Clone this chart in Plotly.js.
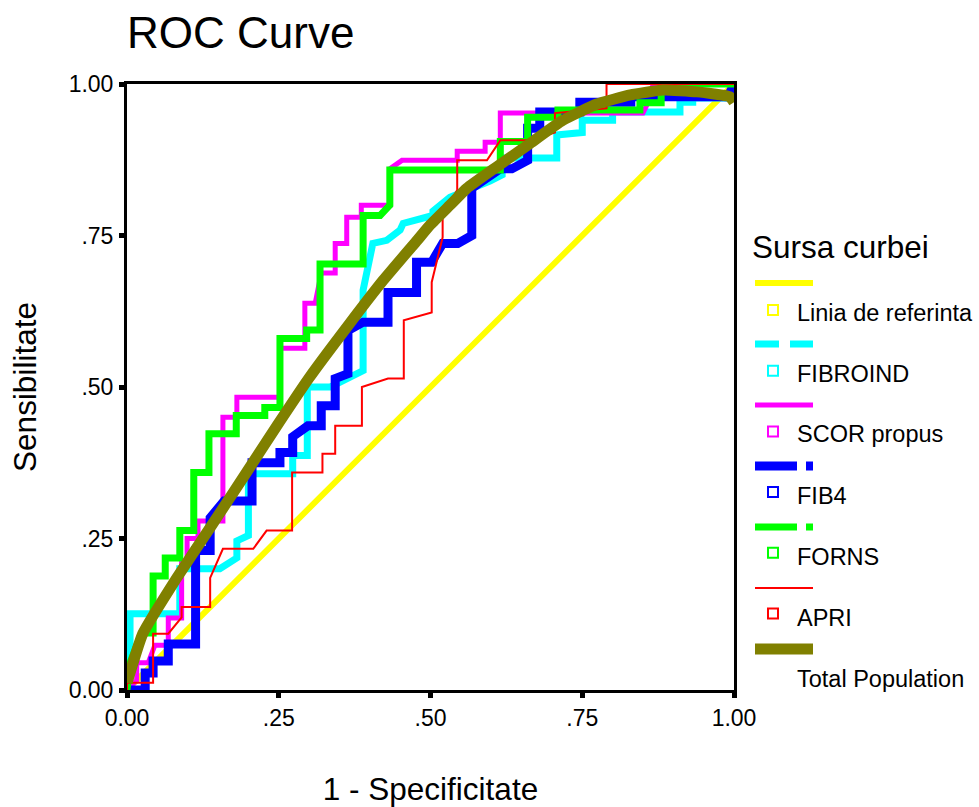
<!DOCTYPE html>
<html><head><meta charset="utf-8">
<script src="https://cdn.plot.ly/plotly-3.0.1.min.js"></script>
<style>html,body{margin:0;padding:0;background:#fff}#chart{width:979px;height:807px}</style>
</head><body><div id="chart"></div>
<script>
// ---------- data ----------
const tickVals = [0, 0.25, 0.5, 0.75, 1];
const tickText = ['0.00', '.25', '.50', '.75', '1.00'];

const seriesNames = ['Linia de referinta', 'FIBROIND', 'SCOR propus', 'FIB4', 'FORNS', 'APRI', 'Total Population'];

const refX = [0, 1];
const refY = [0, 1];

const fibroindX = [0,0.005,0.005,0.087,0.087,0.153,0.181,0.181,0.200,0.200,0.273,0.273,0.297,0.297,0.335,0.389,0.389,0.405,0.428,0.450,0.455,0.504,0.504,0.532,0.598,0.618,0.618,0.708,0.708,0.750,0.750,0.800,0.800,0.911,0.911,0.932,0.932,0.990,1];
const fibroindY = [0,0,0.126,0.126,0.200,0.200,0.218,0.246,0.255,0.357,0.357,0.387,0.387,0.500,0.500,0.527,0.660,0.737,0.742,0.759,0.770,0.783,0.790,0.813,0.840,0.850,0.878,0.878,0.916,0.920,0.940,0.940,0.954,0.954,0.970,0.970,0.977,0.977,1];

const scorX = [0,0.016,0.016,0.035,0.046,0.068,0.068,0.090,0.090,0.099,0.099,0.117,0.117,0.158,0.158,0.181,0.181,0.252,0.252,0.293,0.293,0.310,0.320,0.343,0.343,0.362,0.362,0.386,0.386,0.433,0.433,0.453,0.544,0.544,0.590,0.590,0.615,0.615,0.850,0.866,0.866,1];
const scorY = [0,0.016,0.045,0.045,0.074,0.074,0.119,0.119,0.213,0.213,0.250,0.250,0.279,0.279,0.450,0.450,0.483,0.483,0.564,0.564,0.638,0.638,0.688,0.688,0.737,0.737,0.780,0.780,0.800,0.800,0.860,0.874,0.874,0.889,0.889,0.904,0.904,0.952,0.952,0.985,1,1];

const fib4X = [0,0.030,0.030,0.043,0.043,0.068,0.068,0.113,0.113,0.137,0.137,0.160,0.206,0.206,0.252,0.252,0.273,0.273,0.298,0.320,0.320,0.343,0.343,0.364,0.364,0.389,0.430,0.430,0.477,0.477,0.502,0.520,0.545,0.568,0.568,0.598,0.615,0.634,0.660,0.660,0.680,0.680,0.746,0.746,0.830,0.830,0.990,1];
const fib4Y = [0,0,0.028,0.028,0.048,0.048,0.076,0.076,0.230,0.230,0.284,0.312,0.312,0.375,0.375,0.392,0.392,0.418,0.436,0.436,0.469,0.469,0.514,0.522,0.593,0.607,0.607,0.656,0.656,0.706,0.706,0.737,0.737,0.750,0.828,0.846,0.860,0.860,0.874,0.927,0.927,0.954,0.954,0.970,0.970,0.979,0.979,1];

const fornsX = [0,0.005,0.024,0.043,0.043,0.063,0.063,0.087,0.087,0.110,0.110,0.135,0.135,0.180,0.180,0.227,0.227,0.252,0.252,0.296,0.296,0.318,0.318,0.389,0.389,0.417,0.433,0.433,0.615,0.615,0.660,0.660,0.710,0.710,0.845,0.845,0.880,0.880,1];
const fornsY = [0,0.045,0.094,0.094,0.188,0.188,0.218,0.218,0.263,0.263,0.359,0.359,0.423,0.423,0.453,0.453,0.466,0.466,0.580,0.580,0.594,0.594,0.703,0.703,0.783,0.783,0.800,0.858,0.858,0.905,0.905,0.945,0.945,0.957,0.957,0.969,0.969,1,1];

const apriX = [0,0,0.043,0.043,0.068,0.090,0.090,0.137,0.137,0.158,0.208,0.230,0.272,0.272,0.322,0.322,0.343,0.343,0.387,0.387,0.430,0.456,0.456,0.502,0.502,0.520,0.520,0.544,0.544,0.593,0.615,0.664,0.705,0.705,0.790,0.790,1];
const apriY = [0,0.012,0.012,0.093,0.093,0.120,0.137,0.137,0.185,0.233,0.233,0.263,0.263,0.359,0.359,0.390,0.390,0.436,0.436,0.500,0.514,0.514,0.610,0.623,0.673,0.747,0.783,0.825,0.874,0.874,0.907,0.907,0.920,0.952,0.960,1,1];

const totalX = [0,0.026,0.082,0.137,0.191,0.247,0.300,0.367,0.422,0.478,0.500,0.532,0.560,0.610,0.664,0.718,0.774,0.829,0.883,0.939,0.993,1];
const totalY = [0.012,0.093,0.185,0.268,0.350,0.436,0.515,0.605,0.676,0.742,0.768,0.800,0.828,0.864,0.902,0.940,0.967,0.982,0.990,0.987,0.979,0.970];

// ---------- styles ----------
const FONT = 'Liberation Sans, Arial, Helvetica, sans-serif';
const colors = ['#FFFF00', '#00FFFF', '#FF00FF', '#0000FF', '#00FF00', '#FF0000', '#808000'];
const widths = [6, 7, 5, 9, 7, 2, 11];
const legendDash = ['solid', '24px,11px', 'solid', '42px,9px,8px,9px', '42px,9px,8px,9px', 'solid', 'solid'];
const xs = [refX, fibroindX, scorX, fib4X, fornsX, apriX, totalX];
const ys = [refY, fibroindY, scorY, fib4Y, fornsY, apriY, totalY];

const traces = seriesNames.map((n, i) => ({
  type: 'scatter', mode: 'lines', name: n,
  x: xs[i], y: ys[i],
  line: {color: colors[i], width: widths[i], shape: i === 6 ? 'spline' : 'linear', smoothing: 0.4},
  hoverinfo: 'skip', showlegend: false
}));

// ---------- manual legend (SPSS style: line sample row, then marker + label row) ----------
const L = 127, R = 734, T = 84, B = 690;
const PX = p => (p - L) / (R - L);
const PY = p => (B - p) / (B - T);

const shapes = [];
const annotations = [{
  text: 'Sursa curbei', xref: 'paper', yref: 'paper', x: PX(750), y: PY(247),
  xanchor: 'left', yanchor: 'middle', showarrow: false,
  font: {family: FONT, size: 31.5, color: '#000'}
}];
seriesNames.forEach((n, i) => {
  const ly = 283 + 61 * i;
  shapes.push({type: 'line', xref: 'paper', yref: 'paper', x0: PX(755), x1: PX(813), y0: PY(ly), y1: PY(ly),
    line: {color: colors[i], width: widths[i], dash: legendDash[i]}});
  const ty = 312.5 + 61 * i;
  if (i < 6) {
    const sy = 310 + 60.7 * i;
    shapes.push({type: 'rect', xref: 'paper', yref: 'paper', x0: PX(768), x1: PX(778), y0: PY(sy + 5), y1: PY(sy - 5),
      line: {color: colors[i], width: 2}, fillcolor: 'rgba(0,0,0,0)'});
  }
  annotations.push({text: n, xref: 'paper', yref: 'paper', x: PX(795), y: PY(ty),
    xanchor: 'left', yanchor: 'middle', showarrow: false,
    font: {family: FONT, size: 23.5, color: '#000'}});
});

const axisCommon = {
  range: [0, 1], tickvals: tickVals, ticktext: tickText,
  ticks: 'outside', ticklen: 5, tickwidth: 5, tickcolor: '#000',
  showline: true, linewidth: 3, linecolor: '#000', mirror: true,
  showgrid: false, zeroline: false, fixedrange: true, automargin: false,
  tickfont: {family: FONT, size: 23, color: '#000'}
};

const layout = {
  width: 979, height: 807,
  margin: {l: L, r: 979 - R, t: T, b: 807 - B, pad: 0},
  paper_bgcolor: '#fff', plot_bgcolor: '#fff',
  showlegend: false,
  title: {text: 'ROC Curve', x: 127 / 979, xref: 'container', xanchor: 'left',
    y: 1 - 33 / 807, yref: 'container', yanchor: 'middle',
    font: {family: FONT, size: 44, color: '#000'}},
  xaxis: Object.assign({}, axisCommon, {
    title: {text: '1 - Specificitate', standoff: 52, font: {family: FONT, size: 31.5, color: '#000'}}
  }),
  yaxis: Object.assign({}, axisCommon, {
    ticklabelstandoff: 1,
    title: {text: 'Sensibilitate', standoff: 23, font: {family: FONT, size: 31.5, color: '#000'}}
  }),
  shapes: shapes,
  annotations: annotations
};

Plotly.newPlot('chart', traces, layout, {displayModeBar: false, staticPlot: true});
</script></body></html>
